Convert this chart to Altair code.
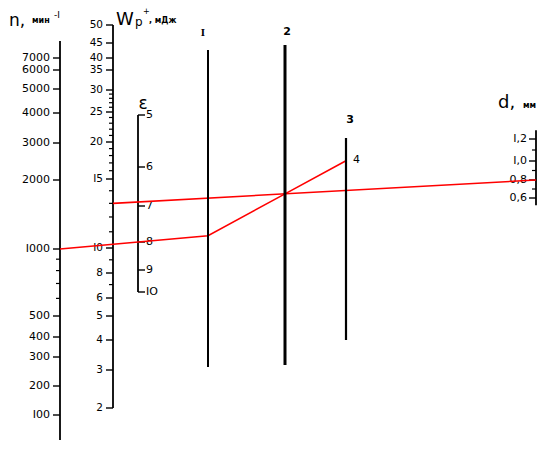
import altair as alt
import numpy as np
import pandas as pd

W, H = 541, 436
OFF = 8  # page margin; reference pixel -> plot pixel

# ---------------- data (nomogram scales) ----------------
# n, мин^-1
n_vals = [100, 200, 300, 400, 500, 600, 700, 800, 900, 1000, 2000, 3000, 4000, 5000, 6000, 7000]
n_labels = ["I00", "200", "300", "400", "500", "", "", "", "", "I000", "2000", "3000", "4000", "5000", "6000", "7000"]
n_anchor_vals = [100, 200, 300, 400, 500, 1000, 2000, 3000, 4000, 5000, 6000, 7000]
n_anchor_px = [415, 386, 357, 337, 316, 249, 180, 143, 113, 89, 70, 58]
n_span = [55, 8700]

# Wp, мДж
wp_vals = [2, 3, 4, 5, 6, 7, 8, 9, 10, 11, 12, 13, 14, 15, 16, 17, 18, 19, 20,
           21, 22, 23, 24, 25, 26, 27, 28, 29, 30, 35, 40, 45, 50]
wp_label_map = {2: "2", 3: "3", 4: "4", 5: "5", 6: "6", 8: "8", 10: "I0", 15: "I5",
                20: "20", 25: "25", 30: "30", 35: "35", 40: "40", 45: "45", 50: "50"}
wp_anchor_vals = [2, 3, 4, 5, 6, 8, 10, 15, 20, 25, 30, 35, 40, 45, 50]
wp_anchor_px = [408, 370, 340, 316, 298, 273, 248, 179, 142, 112, 90, 70, 58, 43, 25]
wp_span = [2, 50]

# epsilon
eps_vals = [5, 6, 7, 8, 9, 10]
eps_labels = ["5", "6", "7", "8", "9", "IO"]
eps_anchor_px = [115, 167, 206, 242, 270, 292]
eps_span = [5, 10]

# d, мм
d_vals = [0.6, 0.7, 0.8, 0.9, 1.0, 1.1, 1.2]
d_labels = ["0,6", "", "0,8", "", "I,0", "", "I,2"]
d_anchor_vals = [0.6, 0.8, 1.0, 1.2]
d_anchor_px = [198, 180, 161, 139]
d_span = [0.52, 1.28]

# key (solution) values
n_key = 1000
eps_key = 8
wp_key = 13
d_key = 0.8

# axis x positions (reference pixels)
X_N, X_WP, X_EPS, X_I, X_2, X_3, X_D = 60, 113, 138, 208, 285, 346, 536

FONT = "DejaVu Sans"


def px_log(v, av, ap):
    return float(np.interp(np.log(v), np.log(av), ap))


def px_lin(v, av, ap):
    return float(np.interp(v, av, ap))


def nomo_axis(vals, labels, av, ap, span, x, direction, stype, label_gap, fsize=11):
    scale = alt.Scale(type=stype, domain=av, range=[p - OFF for p in ap], nice=False,
                      **({"zero": False} if stype == "linear" else {}))
    df = pd.DataFrame({"v": vals, "label": labels})
    df["major"] = df["label"] != ""
    y = alt.Y("v:Q", scale=scale, axis=None)
    line = alt.Chart(pd.DataFrame({"v": [span[0]], "v2": [span[1]]})).mark_rule(
        color="black", strokeWidth=1.8).encode(x=alt.value(x - OFF), y=y, y2="v2:Q")
    major = alt.Chart(df[df["major"]]).mark_rule(color="black", strokeWidth=1.4).encode(
        x=alt.value(x - OFF), x2=alt.value(x - OFF + direction * 7), y=y)
    minor = alt.Chart(df[~df["major"]]).mark_rule(color="black", strokeWidth=1.2).encode(
        x=alt.value(x - OFF), x2=alt.value(x - OFF + direction * 4), y=y)
    text = alt.Chart(df[df["major"]]).mark_text(
        align="right" if direction < 0 else "left", baseline="middle",
        font=FONT, fontSize=fsize, color="black").encode(
        x=alt.value(x - OFF + direction * label_gap), y=y, text="label:N")
    return alt.layer(line, major, minor, text)


ax_n = nomo_axis(n_vals, n_labels, n_anchor_vals, n_anchor_px, n_span, X_N, -1, "log", 10)
ax_wp = nomo_axis(wp_vals, [wp_label_map.get(v, "") for v in wp_vals], wp_anchor_vals, wp_anchor_px,
                  wp_span, X_WP, -1, "log", 10, fsize=10.5)
ax_eps = nomo_axis(eps_vals, eps_labels, eps_vals, eps_anchor_px, eps_span, X_EPS, 1, "linear", 8)
ax_d = nomo_axis(d_vals, d_labels, d_anchor_vals, d_anchor_px, d_span, X_D, -1, "linear", 9)

# ---------------- solution lines (geometry of the nomogram) ----------------
a0 = (X_N, px_log(n_key, n_anchor_vals, n_anchor_px))
e8 = (X_EPS, px_lin(eps_key, eps_vals, eps_anchor_px))
b0 = (X_WP, px_log(wp_key, wp_anchor_vals, wp_anchor_px))
b1 = (X_D, px_lin(d_key, d_anchor_vals, d_anchor_px))


def at_x(p, q, x):
    return (x, p[1] + (q[1] - p[1]) * (x - p[0]) / (q[0] - p[0]))


i1 = at_x(a0, e8, X_I)
piv = at_x(b0, b1, X_2)
t3 = at_x(i1, piv, X_3)

red = pd.DataFrame({
    "line": ["A", "A", "A", "A", "B", "B"],
    "order": [0, 1, 2, 3, 0, 1],
    "x": [a0[0], i1[0], piv[0], t3[0], b0[0], b1[0]],
    "y": [a0[1], i1[1], piv[1], t3[1], b0[1], b1[1]],
})
red["x"] -= OFF
red["y"] -= OFF

fx = alt.Scale(domain=[0, W], range=[0, W], nice=False, zero=False)
fy = alt.Scale(domain=[0, H], range=[0, H], nice=False, zero=False)

red_layer = alt.Chart(red).mark_line(color="#ff0000", strokeWidth=1.6).encode(
    x=alt.X("x:Q", scale=fx, axis=None),
    y=alt.Y("y:Q", scale=fy, axis=None),
    detail="line:N", order="order:Q")


# plain index lines I, 2, 3
def vline(x, y1, y2, w):
    return alt.Chart(pd.DataFrame({"a": [0]})).mark_rule(color="black", strokeWidth=w).encode(
        x=alt.value(x - OFF), y=alt.value(y1 - OFF), y2=alt.value(y2 - OFF))


def label(txt, x, y, size=11, align="center", weight="normal", font=FONT, baseline="middle"):
    return alt.Chart(pd.DataFrame({"t": [txt]})).mark_text(
        align=align, baseline=baseline, fontSize=size, fontWeight=weight, font=font,
        color="black").encode(x=alt.value(x - OFF), y=alt.value(y - OFF), text="t:N")


frame = alt.layer(
    vline(X_I, 50, 367, 2.0),
    vline(X_2, 45, 365, 3.0),
    vline(X_3, 138, 340, 2.2),
    label("I", 203, 33, 11, weight="bold", font="Liberation Serif"),
    label("2", 287, 32, 11, weight="bold"),
    label("3", 350, 120, 11, weight="bold"),
    label("4", t3[0] + 7, t3[1] - 1, 11, align="left"),
    label("n,", 9, 21, 17, align="left"),
    label("мин", 32, 21, 8, align="left", weight="bold"),
    label("-I", 54, 15, 9, align="left"),
    label("W", 116, 20, 18, align="left"),
    label("p", 135, 22, 12, align="left"),
    label("+", 143, 12, 8, align="left"),
    label(", мДж", 149, 21, 8, align="left", weight="bold"),
    label("ε", 143, 104, 17),
    label("d,", 498, 103, 18, align="left"),
    label("мм", 523, 106, 8, align="left", weight="bold"),
)

chart = alt.layer(ax_n, ax_wp, ax_eps, ax_d, red_layer, frame).resolve_scale(
    y="independent", x="independent"
).properties(
    width=W, height=H, padding=0, autosize=alt.AutoSizeParams(type="none"),
    background="white"
).configure_view(stroke=None)

chart.save("out.html", embed_options={"renderer": "svg", "actions": False})
